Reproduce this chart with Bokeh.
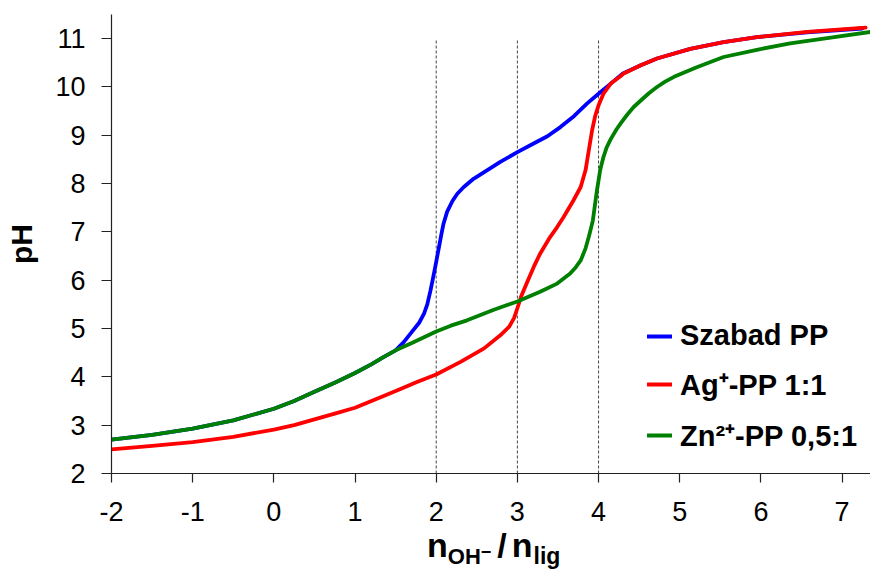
from bokeh.plotting import figure
from bokeh.models import Range1d, FixedTicker, Legend, LegendItem, Div
from bokeh.layouts import column
from bokeh.embed import file_html
from bokeh.resources import INLINE

# Titration curves: pH versus added base (n_OH- / n_lig)
x_free = [-2.0, -1.5, -1.0, -0.5, 0.0, 0.25, 0.5, 0.75, 1.0, 1.2, 1.35, 1.5, 1.6, 1.7, 1.79,
          1.85, 1.89, 1.93, 1.97, 2.0, 2.03, 2.06, 2.09, 2.135, 2.2, 2.26, 2.34, 2.46, 2.63,
          2.79, 3.0, 3.2, 3.37, 3.53, 3.7, 3.86, 4.0, 4.15, 4.3, 4.52, 4.72, 5.13, 5.54,
          5.95, 6.57, 7.25]
ph_free = [2.70, 2.80, 2.93, 3.10, 3.34, 3.50, 3.69, 3.88, 4.08, 4.26, 4.41, 4.55, 4.72, 4.93, 5.12,
           5.31, 5.50, 5.79, 6.12, 6.38, 6.65, 6.92, 7.17, 7.42, 7.64, 7.79, 7.93, 8.10, 8.28,
           8.45, 8.65, 8.83, 8.98, 9.17, 9.40, 9.66, 9.86, 10.07, 10.28, 10.45, 10.59, 10.79, 10.93,
           11.03, 11.13, 11.21]

x_ag = [-2.0, -1.5, -1.0, -0.5, 0.0, 0.25, 0.5, 0.75, 1.0, 1.36, 1.56, 1.77, 2.0, 2.3, 2.59,
        2.79, 2.9, 2.96, 3.0, 3.05, 3.12, 3.2, 3.28, 3.39, 3.49, 3.57, 3.69, 3.78, 3.84, 3.88,
        3.92, 3.96, 4.0, 4.06, 4.15, 4.27, 4.31, 4.52, 4.72, 5.13, 5.54, 5.95, 6.57, 7.29]
ph_ag = [2.50, 2.57, 2.65, 2.76, 2.91, 3.00, 3.12, 3.24, 3.36, 3.61, 3.75, 3.90, 4.05, 4.31, 4.59,
         4.86, 5.04, 5.22, 5.42, 5.68, 5.96, 6.27, 6.55, 6.86, 7.10, 7.31, 7.65, 7.93, 8.28, 8.69,
         9.10, 9.41, 9.62, 9.86, 10.07, 10.22, 10.28, 10.45, 10.59, 10.79, 10.93, 11.03, 11.14, 11.23]

x_zn = [-2.0, -1.5, -1.0, -0.5, 0.0, 0.25, 0.5, 0.75, 1.0, 1.2, 1.35, 1.5, 1.7, 2.0, 2.18,
        2.38, 2.71, 3.0, 3.28, 3.49, 3.65, 3.72, 3.78, 3.84, 3.88, 3.91, 3.93, 3.955, 3.98,
        4.02, 4.06, 4.1, 4.15, 4.22, 4.27, 4.35, 4.43, 4.52, 4.62, 4.72, 4.82, 4.93, 5.21,
        5.54, 5.95, 6.36, 6.86, 7.35]
ph_zn = [2.70, 2.80, 2.93, 3.10, 3.34, 3.50, 3.69, 3.88, 4.08, 4.26, 4.41, 4.55, 4.70, 4.94, 5.06,
         5.17, 5.39, 5.56, 5.76, 5.93, 6.14, 6.27, 6.41, 6.66, 6.90, 7.10, 7.24, 7.55, 7.86,
         8.28, 8.55, 8.75, 8.92, 9.12, 9.24, 9.42, 9.58, 9.72, 9.87, 10.00, 10.11, 10.21, 10.41,
         10.62, 10.77, 10.90, 11.02, 11.14]

series_names = ["Szabad PP", "Ag\u207a-PP 1:1", "Zn\u00b2\u207a-PP 0,5:1"]
series_colors = ["#0000FF", "#FF0000", "#008000"]

# equivalence markers
equiv_x = [2, 3, 4]
equiv_top = 11

x_ticks = [-2, -1, 0, 1, 2, 3, 4, 5, 6, 7]
y_ticks = [2, 3, 4, 5, 6, 7, 8, 9, 10, 11]
X_MIN, X_MAX = -2.0, 7.35
Y_MIN, Y_MAX = 2.0, 11.5

FONT = "Liberation Sans"
W = 870
PLOT_H = 535
TITLE_H = 35

p = figure(width=W, height=PLOT_H, output_backend="svg", toolbar_location=None,
           x_range=Range1d(X_MIN, X_MAX), y_range=Range1d(Y_MIN, Y_MAX),
           min_border_left=111, min_border_right=0,
           min_border_top=14, min_border_bottom=62)
p.outline_line_color = None
p.grid.visible = False
p.background_fill_color = "white"
p.border_fill_color = "white"

for ax, ticks in ((p.xaxis, x_ticks), (p.yaxis, y_ticks)):
    ax.ticker = FixedTicker(ticks=ticks)
    ax.minor_tick_line_color = None
    ax.axis_line_color = "#222222"
    ax.major_tick_line_color = "#222222"
    ax.axis_line_width = 1.2
    ax.major_tick_line_width = 1.2
    ax.major_tick_in = 0
    ax.major_label_text_font = FONT
    ax.major_label_text_font_size = "27px"
    ax.major_label_text_color = "black"

p.xaxis.major_label_overrides = {-2: "-2", -1: "-1"}
p.xaxis.major_tick_out = 9
p.xaxis.major_label_standoff = 19
p.yaxis.major_tick_out = 10
p.yaxis.major_label_standoff = 16

p.yaxis.axis_label = "pH"
p.yaxis.axis_label_text_font = FONT
p.yaxis.axis_label_text_font_size = "30px"
p.yaxis.axis_label_text_font_style = "bold"
p.yaxis.axis_label_text_color = "black"
p.yaxis.axis_label_standoff = 14

# dashed verticals at the equivalence points
p.segment(x0=equiv_x, y0=[Y_MIN] * len(equiv_x), x1=equiv_x, y1=[equiv_top] * len(equiv_x),
          line_color="#444444", line_width=1, line_dash="3 2")

xs = [x_free, x_ag, x_zn]
ys = [ph_free, ph_ag, ph_zn]
renderers = []
for xv, yv, c in zip(xs, ys, series_colors):
    renderers.append(p.line(xv, yv, line_color=c, line_width=3.8, line_join="round",
                            line_cap="round"))

legend = Legend(items=[LegendItem(label=n, renderers=[r]) for n, r in zip(series_names, renderers)],
                location=(536, 19))
legend.background_fill_alpha = 0
legend.border_line_color = None
legend.padding = 0
legend.margin = 0
legend.spacing = 12
legend.glyph_width = 25
legend.glyph_height = 32
legend.label_height = 32
legend.label_standoff = 8
legend.label_text_font = FONT
legend.label_text_font_size = "29px"
legend.label_text_font_style = "bold"
legend.label_text_color = "black"
p.add_layout(legend, "center")

# x-axis title with sub- and superscripts
x_title = (
    '<div style="font-family:\'Liberation Sans\';font-weight:bold;font-size:34px;'
    'line-height:20px;color:black;padding-left:427px;white-space:nowrap;">'
    'n<span style="font-size:22px;vertical-align:-7px;line-height:0;">OH'
    '<span style="font-size:18px;vertical-align:6px;">\u2212</span></span>'
    '<span style="margin-left:6px;">/</span>'
    '<span style="margin-left:5px;">n</span>'
    '<span style="font-size:23px;vertical-align:-7px;line-height:0;margin-left:1px;">lig</span>'
    '</div>'
)
title_div = Div(text=x_title, width=W, height=TITLE_H, margin=0)

layout = column(p, title_div, spacing=0)
open("out.html", "w").write(file_html(layout, INLINE))
